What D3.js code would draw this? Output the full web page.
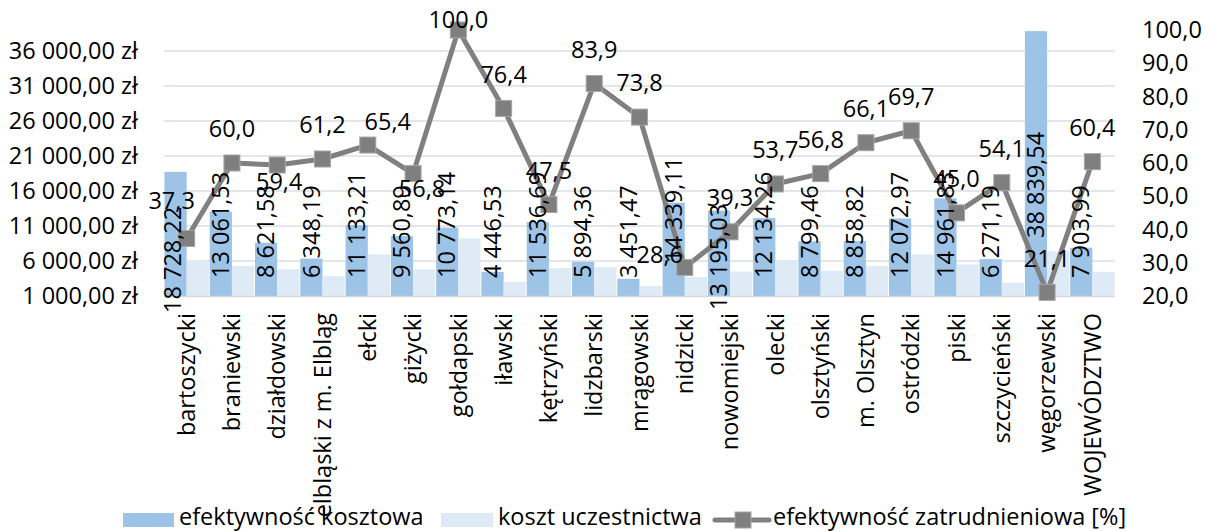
<!DOCTYPE html>
<html>
<head>
<meta charset="utf-8">
<script src="https://cdn.jsdelivr.net/npm/d3@7"></script>
<style>
  body { margin: 0; background: #fff; }
  svg { display: block; font-family: "Open Sans", sans-serif; }
</style>
</head>
<body>
<svg id="chart" width="1210" height="531"></svg>
<script>
// powiaty + województwo
var categories = ["bartoszycki", "braniewski", "działdowski", "elbląski z m. Elbląg", "ełcki", "giżycki",
    "gołdapski", "iławski", "kętrzyński", "lidzbarski", "mrągowski", "nidzicki", "nowomiejski", "olecki",
    "olsztyński", "m. Olsztyn", "ostródzki", "piski", "szczycieński", "węgorzewski", "WOJEWÓDZTWO"]

// efektywność kosztowa (zł)
var efKosztowa = [18728.22, 13061.53, 8621.58, 6348.19, 11133.21, 9560.89, 10773.14, 4446.53, 11536.69,
    5894.36, 3451.47, 14339.11, 13195.03, 12134.26, 8799.46, 8858.82, 12072.97, 14961.83, 6271.19,
    38839.54, 7903.99]

// koszt uczestnictwa (zł)
var kosztUczestnictwa = [6100, 5300, 4830, 3840, 6960, 4830, 9240, 3030, 4980, 5120, 2420, 3700, 4500,
    6110, 4600, 5260, 6960, 5500, 2890, 7390, 4450]

// efektywność zatrudnieniowa [%]
var efZatrudnieniowa = [37.3, 60.0, 59.4, 61.2, 65.4, 56.8, 100.0, 76.4, 47.5, 83.9, 73.8, 28.6, 39.3,
    53.7, 56.8, 66.1, 69.7, 45.0, 54.1, 21.1, 60.4]

var leftTicks = [1000, 6000, 11000, 16000, 21000, 26000, 31000, 36000]
var rightTicks = [20, 30, 40, 50, 60, 70, 80, 90, 100]

// labels that were dragged by hand in the original
var lineLabelNudge = { 0: [-15, -4], 2: [2, 51], 4: [20, 11], 5: [9, 49], 6: [0, 24], 11: [-25, 21] }
var barLabelNudge = { 0: [-3, 35], 11: [0, -15], 12: [0, 32], 19: [0, -40] }

var svg = d3.select("#chart")
var fontSize = 23.5
var plot = { left: 164, right: 1115, top: 30, bottom: 296 }

var x = d3.scaleBand().domain(categories).range([plot.left, plot.right])
var xs = d3.scaleBand().domain(["ef", "koszt"]).range([0, x.bandwidth()]).paddingOuter(0.02)
var y = d3.scaleLinear().domain([1000, 39000]).range([plot.bottom, plot.top])
var y2 = d3.scaleLinear().domain([20, 100]).range([plot.bottom, plot.top])

var fmtZl = function (v) {
    var s = d3.format(",.2f")(v)
    return s.replace(/,/g, " ").replace(".", ",")
}
var fmtZlAxis = function (v) { return fmtZl(v) + " zł" }
var fmtPct = function (v) { return d3.format(".1f")(v).replace(".", ",") }

// gridlines
svg.append("g")
    .selectAll("line")
    .data(leftTicks.slice(1))
    .join("line")
    .attr("x1", plot.left).attr("x2", plot.right)
    .attr("y1", d => y(d)).attr("y2", d => y(d))
    .attr("stroke", "#dadfe6")
    .attr("stroke-width", 1.5)

// left axis
var leftAxis = svg.append("g")
    .attr("transform", `translate(${138}, 0)`)
    .call(d3.axisLeft(y).tickValues(leftTicks).tickFormat(fmtZlAxis).tickSize(0).tickPadding(0))
leftAxis.select(".domain").remove()
leftAxis.selectAll("text").attr("font-size", fontSize).attr("font-family", "Open Sans").attr("fill", "#000")

// right axis
var rightAxis = svg.append("g")
    .attr("transform", `translate(${1142}, 0)`)
    .call(d3.axisRight(y2).tickValues(rightTicks).tickFormat(fmtPct).tickSize(0).tickPadding(0))
rightAxis.select(".domain").remove()
rightAxis.selectAll("text").attr("font-size", fontSize).attr("font-family", "Open Sans").attr("fill", "#000")

// bars
var bars = svg.append("g")
bars.selectAll("rect.ef")
    .data(efKosztowa)
    .join("rect")
    .attr("class", "ef")
    .attr("x", (d, i) => x(categories[i]) + xs("ef"))
    .attr("width", xs.bandwidth())
    .attr("y", d => y(d))
    .attr("height", d => y(1000) - y(d))
    .attr("fill", "#9dc3e6")
bars.selectAll("rect.koszt")
    .data(kosztUczestnictwa)
    .join("rect")
    .attr("class", "koszt")
    .attr("x", (d, i) => x(categories[i]) + xs("koszt"))
    .attr("width", xs.bandwidth())
    .attr("y", d => y(d))
    .attr("height", d => y(1000) - y(d))
    .attr("fill", "#deebf7")

// category axis line
svg.append("line")
    .attr("x1", plot.left).attr("x2", plot.right)
    .attr("y1", plot.bottom + 0.5).attr("y2", plot.bottom + 0.5)
    .attr("stroke", "#d9d9d9")
    .attr("stroke-width", 1.5)

// category labels
svg.append("g")
    .selectAll("text")
    .data(categories)
    .join("text")
    .attr("transform", d => `translate(${x(d) + x.bandwidth() / 2}, ${plot.bottom + 17}) rotate(-90)`)
    .attr("dy", "0.35em")
    .attr("text-anchor", "end")
    .attr("font-size", fontSize)
    .text(d => d)

// line series
var cx = i => x(categories[i]) + x.bandwidth() / 2
var line = d3.line().x((d, i) => cx(i)).y(d => y2(d))
svg.append("path")
    .datum(efZatrudnieniowa)
    .attr("d", line)
    .attr("fill", "none")
    .attr("stroke", "#808080")
    .attr("stroke-width", 5)
    .attr("stroke-linejoin", "round")
svg.append("g")
    .selectAll("rect")
    .data(efZatrudnieniowa)
    .join("rect")
    .attr("x", (d, i) => cx(i) - 8)
    .attr("y", d => y2(d) - 8)
    .attr("width", 16)
    .attr("height", 16)
    .attr("fill", "#7f7f7f")
    .attr("stroke", "#a6a6a6")
    .attr("stroke-width", 1)

// bar value labels (rotated, inside base)
svg.append("g")
    .selectAll("text")
    .data(efKosztowa)
    .join("text")
    .attr("transform", function (d, i) {
        var n = barLabelNudge[i] || [0, 0]
        var bx = x(categories[i]) + xs("ef") + xs.bandwidth() / 2 + n[0]
        var by = y(1000) - 18 + n[1]
        return `translate(${bx}, ${by}) rotate(-90)`
    })
    .attr("dy", "0.35em")
    .attr("text-anchor", "start")
    .attr("font-size", fontSize)
    .text(d => fmtZl(d))

// line value labels
svg.append("g")
    .selectAll("text")
    .data(efZatrudnieniowa)
    .join("text")
    .attr("x", function (d, i) {
        var n = lineLabelNudge[i] || [0, 0]
        return cx(i) + n[0]
    })
    .attr("y", function (d, i) {
        var n = lineLabelNudge[i] || [0, 0]
        return y2(d) - 34 + n[1]
    })
    .attr("dy", "0.35em")
    .attr("text-anchor", "middle")
    .attr("font-size", fontSize)
    .text(d => fmtPct(d))

// legend
var legend = svg.append("g").attr("font-size", fontSize)
var legY = 520
legend.append("rect").attr("x", 123).attr("y", legY - 7).attr("width", 51).attr("height", 14).attr("fill", "#9dc3e6")
legend.append("text").attr("x", 179).attr("y", 525).text("efektywność kosztowa")
legend.append("rect").attr("x", 441).attr("y", legY - 7).attr("width", 52).attr("height", 14).attr("fill", "#deebf7")
legend.append("text").attr("x", 498).attr("y", 525).text("koszt uczestnictwa")
legend.append("line").attr("x1", 715).attr("x2", 769).attr("y1", legY).attr("y2", legY)
    .attr("stroke", "#808080").attr("stroke-width", 5).attr("stroke-linecap", "round")
legend.append("rect").attr("x", 735).attr("y", legY - 8).attr("width", 16).attr("height", 16)
    .attr("fill", "#7f7f7f").attr("stroke", "#a6a6a6")
legend.append("text").attr("x", 773).attr("y", 525).text("efektywność zatrudnieniowa [%]")
</script>
</body>
</html>
